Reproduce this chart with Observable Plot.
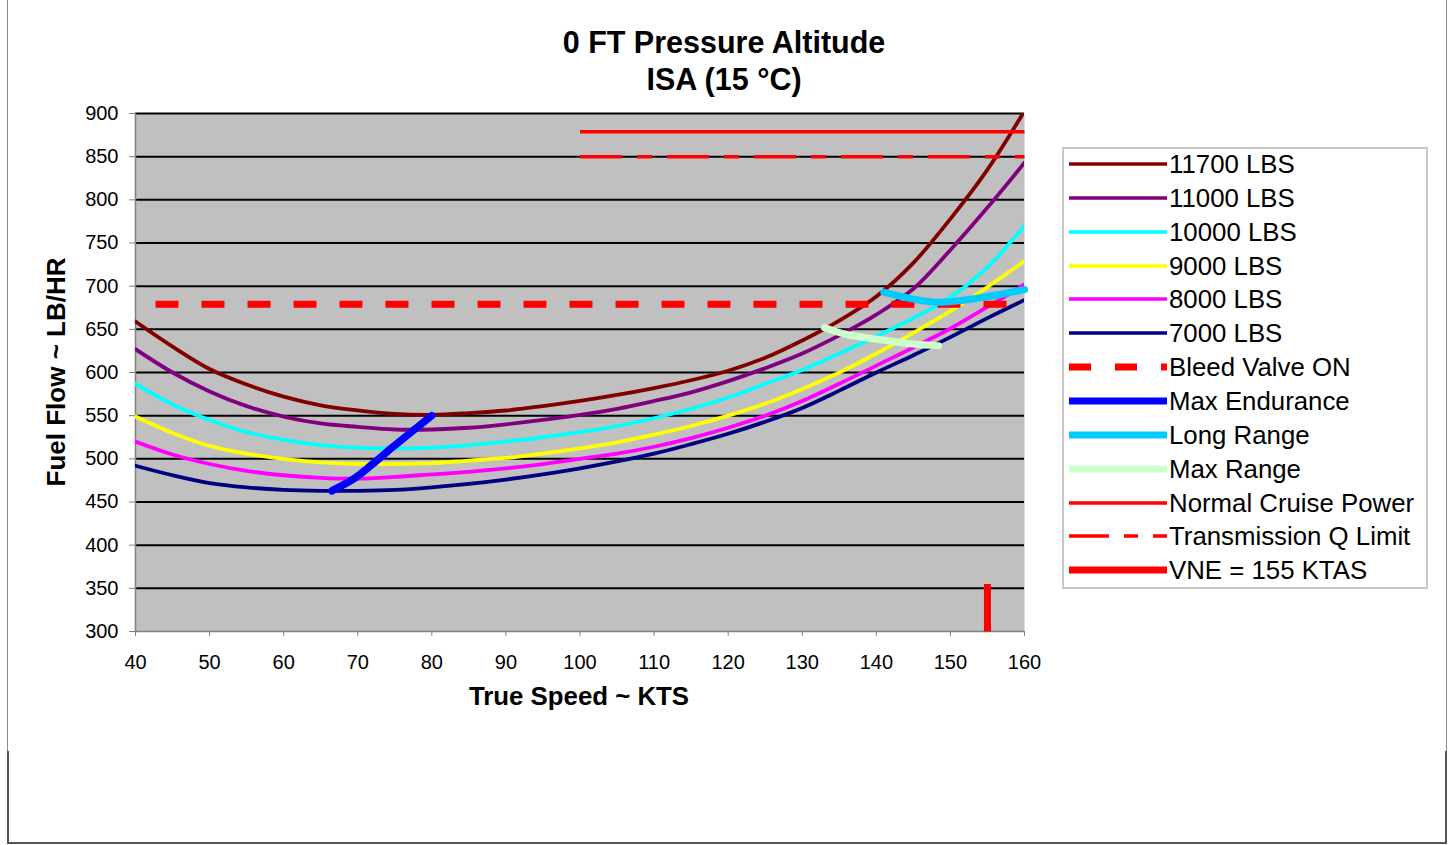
<!DOCTYPE html>
<html><head><meta charset="utf-8">
<script src="https://cdn.jsdelivr.net/npm/d3@7"></script>
<script src="https://cdn.jsdelivr.net/npm/@observablehq/plot@0.6"></script>
<style>
body{margin:0;background:#fff;font-family:"Liberation Sans",Arial,sans-serif;}
#page{position:relative;width:1453px;height:845px;overflow:hidden;background:#fff;}
.vl{position:absolute;top:0;height:751px;width:0;border-left:1px solid #8a8a8a;}
#bottombox{position:absolute;left:7px;top:751px;width:1436px;height:91px;border:2px solid #555;border-top:none;}
#title{position:absolute;left:424px;top:24px;width:600px;text-align:center;font-weight:bold;font-size:30.5px;line-height:37px;color:#000;}
#xlabel{position:absolute;left:379px;top:684px;width:400px;text-align:center;font-weight:bold;font-size:25.8px;line-height:25px;}
#ylabel{position:absolute;left:56px;top:372px;transform:translate(-50%,-50%) rotate(-90deg);white-space:nowrap;font-weight:bold;font-size:26px;line-height:28px;}
#chart{position:absolute;left:0;top:0;}
#legend{position:absolute;left:1062px;top:147px;width:362px;height:438px;border:2px solid #c8c8c8;background:#fff;}
</style></head>
<body><div id="page">
<div class="vl" style="left:7px"></div>
<div class="vl" style="left:1446px"></div>
<div id="bottombox"></div>
<div id="title">0 FT Pressure Altitude<br>ISA (15 °C)</div>
<div id="chart"></div>
<div id="xlabel">True Speed ~ KTS</div>
<div id="ylabel">Fuel Flow ~ LB/HR</div>
<div id="legend"></div>
</div>
<script>
// ---- data ----
const speeds = [40,45,50,55,60,65,70,75,80,85,90,95,100,105,110,115,120,125,130,135,140,145,150,155,160];
const ff11700 = [659,630,604,586,572,562,556,552,551,553,556,561,567,574,582,591,602,617,637,660,688,727,778,835,903];
const ff11000 = [627,600,578,561,549,541,537,534,534,536,540,545,551,558,567,577,590,605,622,643,667,697,742,791,843];
const ff10000 = [587,563,545,531,522,516,513,512,513,516,520,525,531,538,547,558,571,587,603,622,642,663,687,722,770];
const ff9000  = [549,530,515,506,500,496,494,494,495,498,501,506,512,519,528,538,550,564,581,600,622,646,671,699,729];
const ff8000  = [520,505,494,486,481,478,477,479,482,485,489,494,500,506,514,524,536,550,567,587,608,629,651,676,702];
const ff7000  = [492,481,472,467,464,463,463,464,467,471,476,482,489,497,506,517,529,543,559,579,600,620,641,663,684];
const meSpeed = [66.5,69.5,72,74.5,77.5,80];
const meFlow  = [463,477,494,512,533,550];
const lrSpeed = [141,145,148.5,154,160];
const lrFlow  = [693,685,681.5,686.5,696];
const mrSpeed = [133,136,140.6,145,148.4];
const mrFlow  = [652,644,638,633,631];
const bleedSpeed = [42.7,157.6];
const bleedFlow  = [679,679];
const ncpSpeed = [100,160];
const ncpFlow  = [879,879];
const tqSpeed = [100,160];
const tqFlow  = [850,850];
const vneSpeed = [155,155];
const vneFlow  = [300,355];
const xTicks = [40,50,60,70,80,90,100,110,120,130,140,150,160];
const yTicks = [300,350,400,450,500,550,600,650,700,750,800,850,900];
const gridFlows = [350,400,450,500,550,600,650,700,750,800,850,900];

const weightLabels = ["11700 LBS","11000 LBS","10000 LBS","9000 LBS","8000 LBS","7000 LBS"];
const weightColors = ["#800000","#800080","#00ffff","#ffff00","#ff00ff","#000080"];
const weightFlows = [ff11700, ff11000, ff10000, ff9000, ff8000, ff7000];

const legendItems = [
  {label:"11700 LBS", color:"#800000", w:3.5},
  {label:"11000 LBS", color:"#800080", w:3.5},
  {label:"10000 LBS", color:"#00ffff", w:3.5},
  {label:"9000 LBS", color:"#ffff00", w:3.5},
  {label:"8000 LBS", color:"#ff00ff", w:3.5},
  {label:"7000 LBS", color:"#000080", w:3.5},
  {label:"Bleed Valve ON", color:"#ff0000", w:7, dash:"22,24"},
  {label:"Max Endurance", color:"#0000ff", w:7},
  {label:"Long Range", color:"#00ccff", w:7},
  {label:"Max Range", color:"#ccffcc", w:7},
  {label:"Normal Cruise Power", color:"#ff0000", w:3.5},
  {label:"Transmission Q Limit", color:"#ff0000", w:3.5, dash:"40,15,14,15"},
  {label:"VNE = 155 KTAS", color:"#ff0000", w:7}
];

// ---- chart ----
const weightMarks = weightFlows.map((f, i) =>
  Plot.line(speeds, {x: speeds, y: f, stroke: weightColors[i], strokeWidth: 3.8, curve: "catmull-rom", clip: true})
);

const chart = Plot.plot({
  width: 1050, height: 720,
  marginTop: 113, marginBottom: 89, marginLeft: 135, marginRight: 26,
  x: {domain: [40, 160]},
  y: {domain: [300, 900]},
  style: {fontFamily: "Liberation Sans, Arial, sans-serif", fontSize: "20px", color: "#000", background: "transparent", overflow: "visible"},
  marks: [
    Plot.frame({fill: "#c0c0c0", stroke: null}),
    Plot.ruleY(gridFlows, {stroke: "#000", strokeWidth: 2}),
    Plot.ruleX([40], {stroke: "#808080", strokeWidth: 1.5}),
    Plot.ruleY([300], {stroke: "#808080", strokeWidth: 1.5}),
    Plot.axisX({ticks: xTicks, tickSize: 5, tickPadding: 18, label: null, stroke: "#808080", tickFormat: d => String(d)}),
    Plot.axisY({ticks: yTicks, tickSize: 6, tickPadding: 11, label: null, stroke: "#808080", tickFormat: d => String(d)}),
    ...weightMarks,
    Plot.line(bleedSpeed, {x: bleedSpeed, y: bleedFlow, stroke: "#ff0000", strokeWidth: 7, strokeDasharray: "23,23", strokeLinecap: "butt"}),
    Plot.line(meSpeed, {x: meSpeed, y: meFlow, stroke: "#0000ff", strokeWidth: 7.5, curve: "catmull-rom"}),
    Plot.line(lrSpeed, {x: lrSpeed, y: lrFlow, stroke: "#00ccff", strokeWidth: 7, curve: "catmull-rom"}),
    Plot.line(mrSpeed, {x: mrSpeed, y: mrFlow, stroke: "#ccffcc", strokeWidth: 7, curve: "catmull-rom"}),
    Plot.line(ncpSpeed, {x: ncpSpeed, y: ncpFlow, stroke: "#ff0000", strokeWidth: 3.5, strokeLinecap: "butt"}),
    Plot.line(tqSpeed, {x: tqSpeed, y: tqFlow, stroke: "#ff0000", strokeWidth: 3.5, strokeDasharray: "42,15,15,15", strokeLinecap: "butt"}),
    Plot.line(vneSpeed, {x: vneSpeed, y: vneFlow, stroke: "#ff0000", strokeWidth: 7, strokeLinecap: "butt"})
  ]
});
document.getElementById("chart").appendChild(chart);

// ---- legend ----
const leg = d3.select("#legend");
legendItems.forEach((it, i) => {
  const cy = 164 + 33.85 * i - 149;
  const row = leg.append("div")
    .style("position", "absolute").style("left", "0px").style("top", (cy - 17) + "px")
    .style("height", "34px").style("width", "360px");
  const svg = row.append("svg").attr("width", 104).attr("height", 34)
    .style("position", "absolute").style("left", "3px").style("top", "0px");
  svg.append("line").attr("x1", 2).attr("x2", 100).attr("y1", 17).attr("y2", 17)
    .attr("stroke", it.color).attr("stroke-width", it.w)
    .attr("stroke-dasharray", it.dash || null);
  row.append("div").text(it.label)
    .style("position", "absolute").style("left", "105px").style("top", "0px")
    .style("font-size", "25.8px").style("line-height", "34px").style("white-space", "nowrap").style("color", "#000");
});
</script>
</body></html>
